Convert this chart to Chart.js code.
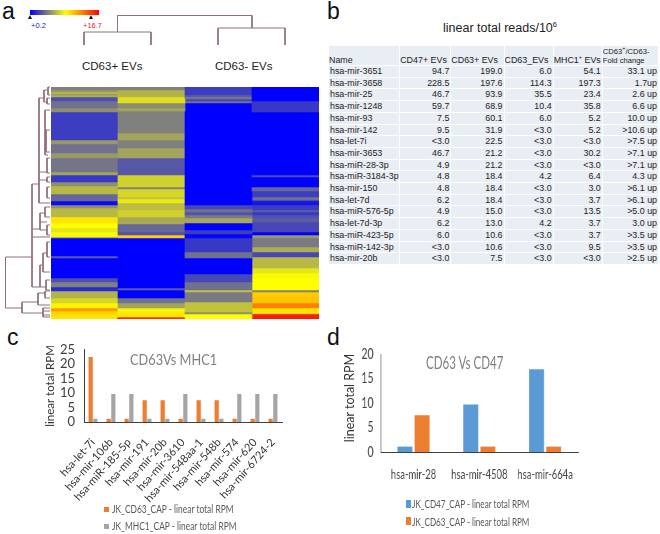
<!DOCTYPE html>
<html lang="en">
<head>
  <meta charset="UTF-8">
  <title>CD63 EV miRNA panels</title>
  <script src="https://cdn.jsdelivr.net/npm/chart.js"></script>
  <style>
    body { margin: 0; background: #fff; width: 660px; height: 534px; overflow: hidden; position: relative; font-family: 'Liberation Sans', Arial, sans-serif; color: #222; }
    canvas, .txt, .box, table { position: absolute; }
    .txt { white-space: nowrap; line-height: 1; }
    .panel { font-size: 23px; color: #111; }
    .grp { font-size: 11.5px; color: #222; }
    .leg { font-family: Lato, sans-serif; font-size: 10.5px; color: #595959; transform: scaleX(0.8); transform-origin: 0 0; }
    .legd { font-family: Lato, sans-serif; font-size: 12px; color: #595959; transform: scaleX(0.676); transform-origin: 0 0; }
    #heat { filter: blur(0.5px); }
    #topTree, #leftTree { filter: blur(0.3px); }
    #colorbar { left: 30px; top: 10px; width: 69px; height: 5px; background: linear-gradient(to right, #0000ff, #ffff00 52%, #ff0000); }
    .tri { position: absolute; top: 15px; width: 0; height: 0; border-left: 2px solid transparent; border-right: 2px solid transparent; border-bottom: 4px solid #111; }
    #reads { left: 328px; top: 45px; border-collapse: separate; border-spacing: 1px; table-layout: fixed; width: 331px; font-size: 8.9px; }
    #reads td, #reads th { background: #e9edf4; padding: 0 1px; height: 10.7px; line-height: 10.7px; text-align: right; font-weight: normal; white-space: nowrap; overflow: hidden; color: #222; }
    #reads th { height: 19px; vertical-align: bottom; text-align: left; line-height: 10px; padding: 0; }
    #reads th:last-child { font-size: 7.6px; line-height: 8.5px; }
    #reads sup { font-size: 5.5px; line-height: 0; }
    #reads td:first-child { text-align: left; }
    #chartD { transform: scaleX(0.7); transform-origin: 0 0; }
  </style>
</head>
<body>
  <div class="txt panel" style="left:2px;top:0">a</div>
  <div class="txt panel" style="left:327px;top:0">b</div>
  <div class="txt panel" style="left:7px;top:326px">c</div>
  <div class="txt panel" style="left:327px;top:326px">d</div>

  <!-- colour key -->
  <div class="box" id="colorbar"></div>
  <div class="tri" style="left:28px"></div>
  <div class="tri" style="left:89px"></div>
  <div class="txt" style="left:31px;top:22px;font-size:7.5px;color:#2222dd">+0.2</div>
  <div class="txt" style="left:83px;top:22px;font-size:7.5px;color:#ee2222">+16.7</div>

  <div class="txt grp" style="left:82px;top:61px">CD63+ EVs</div>
  <div class="txt grp" style="left:215px;top:61px">CD63- EVs</div>

  <canvas id="topTree" width="230" height="40" style="left:70px;top:10px"></canvas>
  <canvas id="leftTree" width="50" height="238" style="left:0;top:84px"></canvas>
  <canvas id="heat" width="268" height="232" style="left:51px;top:87px"></canvas>

  <!-- table b -->
  <div class="txt" style="left:443px;top:22px;font-size:12.5px;color:#222">linear total reads/10<sup style="font-size:7.5px;line-height:0">6</sup></div>
  <table id="reads">
    <colgroup><col style="width:70px"><col style="width:50px"><col style="width:52px"><col style="width:48px"><col style="width:48px"><col style="width:55px"></colgroup>
    <thead id="readsHead"></thead>
    <tbody id="readsBody"></tbody>
  </table>

  <!-- chart c -->
  <canvas id="chartC" width="247" height="177" style="left:43px;top:333px"></canvas>
  <div class="txt" style="left:130px;top:353px;font-family:Lato,sans-serif;font-size:14.5px;color:#7f7f7f;transform:scaleX(0.88);transform-origin:0 0">CD63Vs MHC1</div>
  <div class="box" style="left:104px;top:507px;width:5px;height:5px;background:#ed7d31"></div>
  <div class="txt leg" style="left:112px;top:504px">JK_CD63_CAP - linear total RPM</div>
  <div class="box" style="left:104px;top:524px;width:5px;height:5px;background:#a5a5a5"></div>
  <div class="txt leg" style="left:112px;top:521px">JK_MHC1_CAP - linear total RPM</div>

  <!-- chart d, drawn wide and squeezed to its narrow look -->
  <canvas id="chartD" width="357" height="150" style="left:340px;top:335px"></canvas>
  <div class="txt" style="left:350px;top:398px;font-family:Lato,sans-serif;font-size:12.5px;color:#333;transform:translate(-50%,-50%) rotate(-90deg)">linear total RPM</div>
  <div class="txt" style="left:426px;top:354px;font-family:Lato,sans-serif;font-size:17px;color:#7f7f7f;transform:scaleX(0.68);transform-origin:0 0">CD63 Vs CD47</div>
  <div class="box" style="left:406px;top:500px;width:5px;height:8px;background:#5b9bd5"></div>
  <div class="txt legd" style="left:412px;top:498px">JK_CD47_CAP - linear total RPM</div>
  <div class="box" style="left:406px;top:517px;width:5px;height:8px;background:#ed7d31"></div>
  <div class="txt legd" style="left:412px;top:516px">JK_CD63_CAP - linear total RPM</div>

  <script>
    // Heatmap columns: band level (0 blue, 50 yellow, 100 red) and band thickness
    const levelsA = [25, 30, 36, 28, 34, 15, 22, 28, 12, 30, 22, 30, 23, 32, 11, 28, 36, 20, 2, 28, 36, 55, 50, 45, 49, 30, 0, 18, 0, 15, 25, 8, 35, 42, 52, 70, 58, 55];
    const rowsA = [3, 2, 2, 1, 2, 4, 7, 4, 28, 4, 9, 5, 14, 3, 7, 4, 8, 7, 4, 3, 9, 6, 5, 4, 5, 1, 18, 2, 20, 4, 5, 4, 7, 5, 5, 3, 4, 4];
    const levelsB = [25, 35, 44, 27, 32, 25, 32, 25, 32, 17, 41, 25, 42, 38, 46, 37, 41, 33, 20, 16, 60, 0, 18, 0, 22, 32, 48, 55, 90];
    const rowsB = [3, 7, 6, 5, 3, 22, 7, 8, 10, 17, 12, 2, 8, 2, 4, 7, 7, 7, 8, 3, 3, 50, 2, 8, 5, 5, 4, 5, 2];
    const levelsC = [12, 18, 24, 14, 22, 0, 14, 22, 16, 24, 33, 0, 12, 1, 11, 22, 0, 14, 22, 38, 24, 38, 28, 50];
    const rowsC = [8, 2, 2, 2, 2, 102, 4, 3, 3, 3, 5, 7, 4, 4, 14, 6, 16, 8, 8, 2, 10, 10, 2, 5];
    const levelsD = [0, 11, 0, 15, 0, 20, 12, 22, 13, 4, 12, 18, 11, 16, 18, 14, 0, 30, 24, 34, 14, 36, 45, 49, 50, 25, 60, 62, 75, 55, 40, 95];
    const rowsD = [14, 11, 63, 2, 10, 4, 6, 3, 1, 4, 5, 2, 3, 3, 4, 10, 3, 3, 9, 5, 5, 11, 5, 5, 12, 2, 5, 6, 5, 5, 1, 5];

    // Table b
    const tableHead = ['Name', 'CD47+ EVs', 'CD63+ EVs', 'CD63_EVs', 'MHC1<sup>+</sup> EVs', 'CD63<sup>+</sup>/CD63-<br>Fold change'];
    const mirNames = ['hsa-mir-3651', 'hsa-mir-3658', 'hsa-mir-25', 'hsa-mir-1248', 'hsa-mir-93', 'hsa-mir-142', 'hsa-let-7i', 'hsa-mir-3653', 'hsa-miR-28-3p', 'hsa-miR-3184-3p', 'hsa-mir-150', 'hsa-let-7d', 'hsa-miR-576-5p', 'hsa-let-7d-3p', 'hsa-miR-423-5p', 'hsa-miR-142-3p', 'hsa-mir-20b'];
    const cd47Reads = ['94.7', '228.5', '46.7', '59.7', '7.5', '9.5', '<3.0', '46.7', '4.9', '4.8', '4.8', '6.2', '4.9', '6.2', '6.0', '<3.0', '<3.0'];
    const cd63Reads = ['199.0', '197.6', '93.9', '68.9', '60.1', '31.9', '22.5', '21.2', '21.2', '18.4', '18.4', '18.4', '15.0', '13.0', '10.6', '10.6', '7.5'];
    const cd63NegReads = ['6.0', '114.3', '35.5', '10.4', '6.0', '<3.0', '<3.0', '<3.0', '<3.0', '4.2', '<3.0', '<3.0', '<3.0', '4.2', '<3.0', '<3.0', '<3.0'];
    const mhc1Reads = ['54.1', '197.3', '23.4', '35.8', '5.2', '5.2', '<3.0', '30.2', '<3.0', '6.4', '3.0', '3.7', '13.5', '3.7', '3.7', '9.5', '<3.0'];
    const foldChange = ['33.1 up', '1.7up', '2.6 up', '6.6 up', '10.0 up', '>10.6 up', '>7.5 up', '>7.1 up', '>7.1 up', '4.3 up', '>6.1 up', '>6.1 up', '>5.0 up', '3.0 up', '>3.5 up', '>3.5 up', '>2.5 up'];

    // Chart c
    const mirC = ['hsa-let-7i', 'hsa-mir-106b', 'hsa-miR-185-5p', 'hsa-mir-191', 'hsa-mir-20b', 'hsa-mir-3610', 'hsa-mir-548aa-1', 'hsa-mir-548b', 'hsa-mir-574', 'hsa-mir-620', 'hsa-mir-6724-2'];
    const cd63C = [22.5, 1.1, 1.1, 7.5, 7.5, 1.1, 7.5, 7.5, 1.1, 1.1, 1.1];
    const mhc1C = [1.1, 9.7, 9.7, 1.1, 1.1, 9.7, 1.1, 1.1, 9.7, 9.7, 9.7];

    // Chart d
    const mirD = ['hsa-mir-28', 'hsa-mir-4508', 'hsa-mir-664a'];
    const cd47D = [1.1, 9.7, 16.9];
    const cd63D = [7.5, 1.1, 1.1];

    // Dendrograms, merges as [x1, y1, x2, y2]
    const topMerges = [[117.5, 15.5, 252, 15.5], [117.5, 15.5, 117.5, 32], [252, 15.5, 252, 28], [84, 32, 151, 32], [84, 32, 84, 45], [151, 32, 151, 45], [218, 28, 285, 28], [218, 28, 218, 45], [285, 28, 285, 45]];
    const leftMerges = [
      [5.5, 257, 5.5, 308], [5.5, 257, 32, 257], [5.5, 308, 22, 308],
      [22, 302, 22, 313], [22, 302, 38, 302], [22, 313, 43, 313],
      [38, 293, 38, 305], [38, 293, 45, 293], [38, 305, 50, 305], [45, 291, 45, 298], [45, 291, 50, 291], [45, 298, 50, 298],
      [43, 308, 43, 317], [43, 308, 50, 308], [43, 311, 50, 311], [43, 315, 50, 315], [43, 317, 50, 317],
      [32, 184, 32, 287], [32, 184, 39, 184], [32, 229, 40, 229], [32, 237, 50, 237], [32, 287, 40, 287],
      [40, 213, 40, 230], [40, 213, 45, 213], [40, 222, 47, 222], [40, 230, 47, 230],
      [45, 207, 45, 217], [45, 207, 50, 207], [45, 217, 50, 217], [47, 225, 47, 235], [47, 225, 50, 225], [47, 235, 50, 235],
      [40, 265, 40, 287], [40, 265, 43, 265], [40, 287, 47, 287], [46, 280, 46, 290], [46, 280, 50, 280], [46, 290, 50, 290],
      [43, 253, 43, 272], [43, 253, 47, 253], [43, 272, 50, 272], [47, 242, 47, 257], [47, 242, 50, 242], [47, 257, 50, 257],
      [39, 98, 39, 203], [39, 98, 44, 98], [39, 172, 47, 172], [39, 203, 47, 203], [39, 180, 47, 180],
      [44, 90, 44, 102], [44, 90, 48, 90], [44, 102, 48, 102], [48, 87, 48, 95], [48, 87, 50, 87], [48, 95, 50, 95], [47, 98, 47, 104], [47, 98, 50, 98], [47, 104, 50, 104],
      [45, 110, 45, 155], [45, 110, 50, 110], [45, 155, 48, 155], [46, 130, 46, 152], [46, 130, 50, 130], [46, 152, 50, 152],
      [47, 158, 47, 173], [47, 158, 50, 158], [47, 173, 50, 173], [47, 177, 47, 182], [47, 177, 50, 177], [47, 182, 50, 182],
      [47, 187, 47, 198], [47, 187, 50, 187], [47, 198, 50, 198], [47, 203, 50, 203]
    ];

    // blue -> yellow -> red ramp of the colour key
    function heatColor(level) {
      if (level <= 50) {
        const t = Math.round(level / 50 * 255);
        return 'rgb(' + t + ',' + t + ',' + (255 - t) + ')';
      }
      return 'rgb(255,' + Math.round((100 - level) / 50 * 255) + ',0)';
    }

    // one stacked dataset per band position
    const heatLevels = [levelsA, levelsB, levelsC, levelsD];
    const heatRows = [rowsA, rowsB, rowsC, rowsD];
    const bandCount = Math.max(...heatRows.map(r => r.length));
    const heatDatasets = [];
    for (let i = 0; i < bandCount; i++) {
      heatDatasets.push({
        data: heatRows.map(r => r[i] || 0),
        backgroundColor: heatLevels.map(l => heatColor(l[i] || 0)),
        borderWidth: 0,
        barPercentage: 1,
        categoryPercentage: 1
      });
    }

    new Chart(document.getElementById('heat'), {
      type: 'bar',
      data: { labels: ['A', 'B', 'C', 'D'], datasets: heatDatasets },
      options: {
        responsive: false,
        animation: false,
        plugins: { legend: { display: false }, tooltip: { enabled: false } },
        scales: {
          x: { stacked: true, display: false },
          y: { stacked: true, display: false, reverse: true, min: 0, max: 232 }
        }
      }
    });

    function treeChart(id, merges, xMin, xMax, yMin, yMax) {
      const pts = [];
      merges.forEach(m => {
        pts.push({ x: m[0], y: m[1] }, { x: m[2], y: m[3] }, { x: null, y: null });
      });
      new Chart(document.getElementById(id), {
        type: 'scatter',
        data: { datasets: [{ data: pts, showLine: true, spanGaps: false, pointRadius: 0, borderWidth: 1, borderColor: '#8e7076' }] },
        options: {
          responsive: false,
          animation: false,
          plugins: { legend: { display: false }, tooltip: { enabled: false } },
          scales: {
            x: { display: false, min: xMin, max: xMax },
            y: { display: false, reverse: true, min: yMin, max: yMax }
          }
        }
      });
    }
    treeChart('topTree', topMerges, 70, 300, 10, 50);
    treeChart('leftTree', leftMerges, 0, 50, 84, 322);

    // table b
    document.getElementById('readsHead').innerHTML = '<tr>' + tableHead.map(h => '<th>' + h + '</th>').join('') + '</tr>';
    const readsBody = document.getElementById('readsBody');
    mirNames.forEach((name, i) => {
      const tr = document.createElement('tr');
      [name, cd47Reads[i], cd63Reads[i], cd63NegReads[i], mhc1Reads[i], foldChange[i]].forEach(v => {
        const td = document.createElement('td');
        td.textContent = v;
        tr.appendChild(td);
      });
      readsBody.appendChild(tr);
    });

    // Chart c
    new Chart(document.getElementById('chartC'), {
      type: 'bar',
      data: {
        labels: mirC,
        datasets: [
          { label: 'JK_CD63_CAP - linear total RPM', data: cd63C, backgroundColor: '#ed7d31' },
          { label: 'JK_MHC1_CAP - linear total RPM', data: mhc1C, backgroundColor: '#a5a5a5' }
        ]
      },
      options: {
        responsive: false,
        animation: false,
        layout: { padding: { right: 8 } },
        datasets: { bar: { categoryPercentage: 0.52, barPercentage: 0.9 } },
        plugins: { legend: { display: false }, tooltip: { enabled: false } },
        scales: {
          x: {
            afterFit: s => { s.height = 88; },
            grid: { display: false },
            border: { color: '#404040', width: 1 },
            ticks: { autoSkip: false, minRotation: 48, maxRotation: 48, padding: 6, color: '#333', font: { family: 'Lato', size: 11 } }
          },
          y: {
            min: 0,
            max: 25,
            afterFit: s => { s.width = 41; },
            grid: { display: false, drawTicks: false },
            border: { color: '#404040', width: 1 },
            ticks: { stepSize: 5, autoSkip: false, padding: 9, color: '#404040', font: { family: 'Lato', size: 13 } },
            title: { display: true, text: 'linear total RPM', padding: 0, color: '#333', font: { family: 'Lato', size: 11.5 } }
          }
        }
      }
    });

    // Chart d
    new Chart(document.getElementById('chartD'), {
      type: 'bar',
      data: {
        labels: mirD,
        datasets: [
          { label: 'JK_CD47_CAP - linear total RPM', data: cd47D, backgroundColor: '#5b9bd5' },
          { label: 'JK_CD63_CAP - linear total RPM', data: cd63D, backgroundColor: '#ed7d31' }
        ]
      },
      options: {
        responsive: false,
        animation: false,
        layout: { padding: { right: 17 } },
        datasets: { bar: { categoryPercentage: 0.52, barPercentage: 0.87 } },
        plugins: { legend: { display: false }, tooltip: { enabled: false } },
        scales: {
          x: {
            afterFit: s => { s.height = 33; },
            grid: { display: false, drawTicks: false },
            border: { color: '#404040', width: 1 },
            ticks: { autoSkip: false, padding: 15, maxRotation: 0, color: '#444', font: { family: 'Lato', size: 13.5 } }
          },
          y: {
            min: 0,
            max: 20,
            afterFit: s => { s.width = 58; },
            grid: { display: false, drawTicks: false },
            border: { color: '#404040', width: 1 },
            ticks: { stepSize: 5, autoSkip: false, padding: 10, color: '#444', font: { family: 'Lato', size: 15 } }
          }
        }
      }
    });
  </script>
</body>
</html>
